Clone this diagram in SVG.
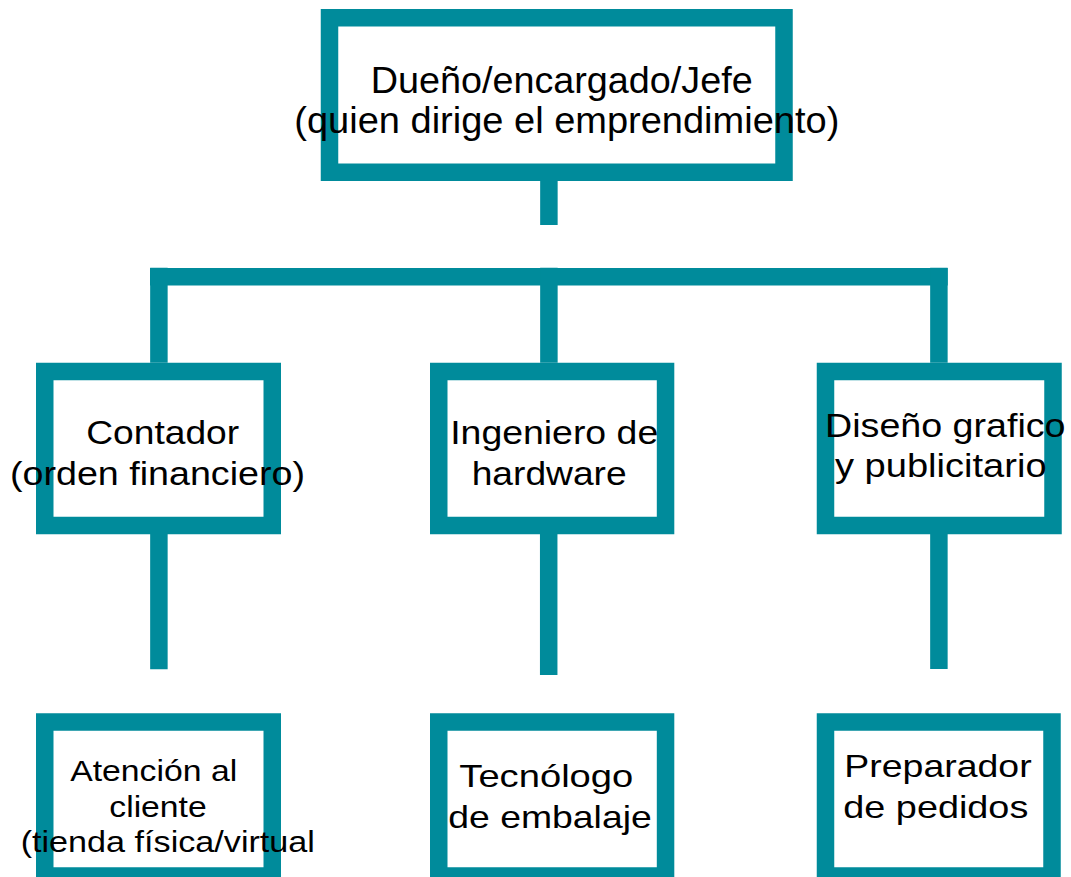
<svg xmlns="http://www.w3.org/2000/svg" width="1071" height="877" viewBox="0 0 1071 877">
<style>
.box{fill:#ffffff;stroke:#008b9b;stroke-width:17.5}
.con{stroke:#008b9b;stroke-width:17.5;fill:none;stroke-linecap:butt}
text{font-family:"Liberation Sans",Arial,sans-serif;fill:#000000;text-anchor:middle}
.t1{font-size:36px}
.t2{font-size:34px}
.t3{font-size:32px}
.t4{font-size:30px}
</style>
<rect width="1071" height="877" fill="#ffffff"/>
<g id="connectors">
<line class="con" x1="548.9" y1="181" x2="548.9" y2="225"/>
<line class="con" x1="150" y1="276.7" x2="947.7" y2="276.7"/>
<line class="con" x1="158.9" y1="267.7" x2="158.9" y2="362.7"/>
<line class="con" x1="548.9" y1="267.7" x2="548.9" y2="362.7"/>
<line class="con" x1="938.9" y1="267.7" x2="938.9" y2="362.7"/>
<line class="con" x1="158.9" y1="534" x2="158.9" y2="669.3"/>
<line class="con" x1="548.7" y1="534" x2="548.7" y2="675"/>
<line class="con" x1="938.9" y1="534" x2="938.9" y2="669"/>
</g>
<g id="jefe">
<rect class="box" x="329.5" y="17.75" width="454.5" height="154.5"/>
<text class="t1" x="561.7" y="93.3" textLength="382" lengthAdjust="spacingAndGlyphs">Dueño/encargado/Jefe</text>
<text class="t1" x="566.8" y="133.3" textLength="545" lengthAdjust="spacingAndGlyphs">(quien dirige el emprendimiento)</text>
</g>
<g id="contador">
<rect class="box" x="44.75" y="371.5" width="227.5" height="154"/>
<text class="t2" x="162.7" y="444.3" textLength="153" lengthAdjust="spacingAndGlyphs">Contador</text>
<text class="t2" x="157.5" y="485" textLength="295" lengthAdjust="spacingAndGlyphs">(orden financiero)</text>
</g>
<g id="ingeniero">
<rect class="box" x="438.75" y="371.5" width="226.8" height="154"/>
<text class="t2" x="554.2" y="444.3" textLength="208" lengthAdjust="spacingAndGlyphs">Ingeniero de</text>
<text class="t2" x="549.2" y="485" textLength="155" lengthAdjust="spacingAndGlyphs">hardware</text>
</g>
<g id="diseno">
<rect class="box" x="825.5" y="371.5" width="227.5" height="154"/>
<text class="t2" x="945.3" y="436.7" textLength="240.5" lengthAdjust="spacingAndGlyphs">Diseño grafico</text>
<text class="t2" x="940.8" y="476.7" textLength="211.7" lengthAdjust="spacingAndGlyphs">y publicitario</text>
</g>
<g id="atencion">
<rect class="box" x="44.75" y="722" width="227.5" height="154"/>
<text class="t4" x="153.7" y="781" textLength="167" lengthAdjust="spacingAndGlyphs">Atención al</text>
<text class="t4" x="158" y="816.7" textLength="97.4" lengthAdjust="spacingAndGlyphs">cliente</text>
<text class="t4" x="167.8" y="851.7" textLength="294.3" lengthAdjust="spacingAndGlyphs">(tienda física/virtual</text>
</g>
<g id="tecnologo">
<rect class="box" x="438.75" y="722" width="226.8" height="154"/>
<text class="t3" x="546.3" y="787.3" textLength="174" lengthAdjust="spacingAndGlyphs">Tecnólogo</text>
<text class="t3" x="550" y="828.3" textLength="203.4" lengthAdjust="spacingAndGlyphs">de embalaje</text>
</g>
<g id="preparador">
<rect class="box" x="825.5" y="722" width="226.5" height="154"/>
<text class="t3" x="938" y="777.3" textLength="187.3" lengthAdjust="spacingAndGlyphs">Preparador</text>
<text class="t3" x="935.8" y="818.3" textLength="185" lengthAdjust="spacingAndGlyphs">de pedidos</text>
</g>
</svg>
